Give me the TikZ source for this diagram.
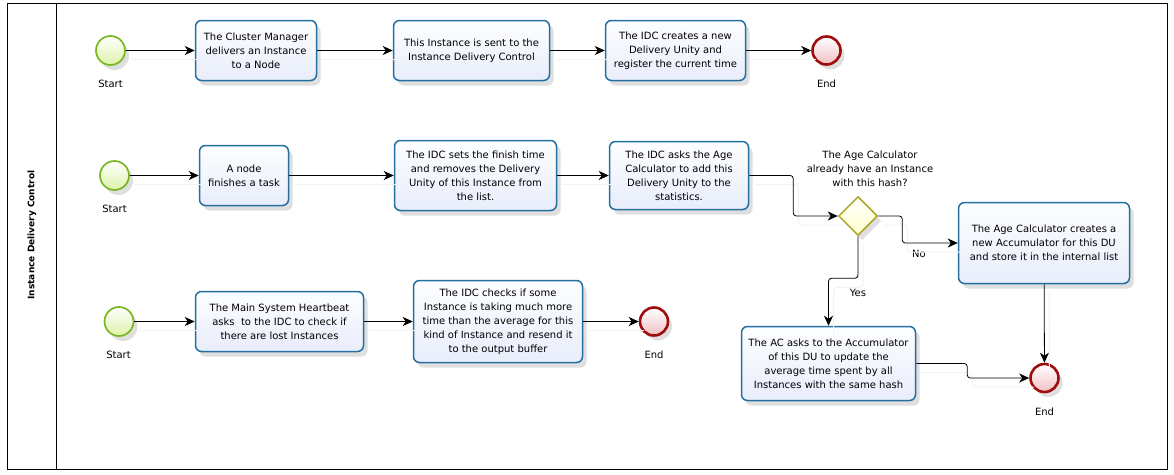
\documentclass[tikz,border=0pt]{standalone}
\usepackage{fontspec}
\setmainfont{DejaVu Sans}
\usetikzlibrary{arrows.meta,shapes.geometric,shadows}

\definecolor{taskline}{RGB}{35,112,160}
\definecolor{tasktop}{RGB}{253,254,255}
\definecolor{taskbot}{RGB}{232,237,251}
\definecolor{startline}{RGB}{122,182,32}
\definecolor{startfill}{RGB}{222,242,170}
\definecolor{endline}{RGB}{158,12,12}
\definecolor{endfill}{RGB}{240,192,198}
\definecolor{gwline}{RGB}{172,166,40}
\definecolor{gwfill}{RGB}{255,255,205}

\tikzset{
  txt/.style={font=\fontsize{10}{14}\selectfont, align=center},
  shade/.style={drop shadow={shadow xshift=4pt, shadow yshift=-5pt, opacity=.25, fill=black!50}},
  task/.style={txt, shade, draw=taskline, line width=1.5pt, rounded corners=6pt,
    top color=tasktop, bottom color=taskbot, inner sep=2pt},
  startev/.style={circle, shade, draw=startline, line width=1.7pt, minimum size=29pt,
    inner sep=0pt, top color=white, bottom color=startfill},
  endev/.style={circle, shade, draw=endline, line width=2.6pt, minimum size=28pt,
    inner sep=0pt, top color=white, bottom color=endfill},
  gate/.style={diamond, shade, draw=gwline, line width=1.5pt, minimum width=39pt,
    minimum height=39pt, inner sep=0pt, top color=white, bottom color=gwfill},
  flow/.style={-{Stealth[length=10pt,width=9pt,inset=3pt]}, line width=0.8pt, rounded corners=3pt,
    preaction={draw=black!5, line width=1pt, arrows=-, transform canvas={shift={(5pt,-9pt)}}}}
}

\begin{document}
\begin{tikzpicture}[x=1pt, y=-1pt]
	\useasboundingbox (0,0) rectangle (1174,474);
	\draw[line width=1pt] (7,3) rectangle (1167,469);
	\draw[line width=1pt] (56,3) -- (56,469);
	\node[rotate=90, font=\bfseries\fontsize{9}{11}\selectfont] (lane) at (32,235) {Instance Delivery Control};

	\node[startev] (s1) at (110.5,50.5) {};
	\node[txt] (s1l) at (110.5,84) {Start};
	\node[task, minimum width=121pt, minimum height=60pt] (t1) at (256,50.5) {The Cluster Manager\\delivers an Instance\\to a Node};
	\node[task, minimum width=156pt, minimum height=60pt] (t2) at (471.5,50.5) {This Instance is sent to the\\Instance Delivery Control};
	\node[task, minimum width=140pt, minimum height=60pt] (t3) at (675.5,50.5) {The IDC creates a new\\Delivery Unity and\\register the current time};
	\node[endev] (e1) at (826.5,50.5) {};
	\node[txt] (e1l) at (826.5,84) {End};

	\node[startev] (s2) at (114.5,175.5) {};
	\node[txt] (s2l) at (114.5,209) {Start};
	\node[task, minimum width=89pt, minimum height=60pt] (ta) at (244,175.5) {A node\\finishes a task};
	\node[task, minimum width=162pt, minimum height=70pt] (tb) at (475.5,175.5) {The IDC sets the finish time\\and removes the Delivery\\Unity of this Instance from\\the list.};
	\node[task, minimum width=139pt, minimum height=68pt] (tc) at (679,175.5) {The IDC asks the Age\\Calculator to add this\\Delivery Unity to the\\statistics.};
	\node[gate] (gw) at (858,216) {};
	\node[txt] (gwl) at (870,169) {The Age Calculator\\already have an Instance\\with this hash?};
	\node[task, minimum width=171pt, minimum height=81pt] (td) at (1044,243) {The Age Calculator creates a\\new Accumulator for this DU\\and store it in the internal list};
	\node[task, minimum width=174pt, minimum height=74pt] (te) at (828.5,363.5) {The AC asks to the Accumulator\\of this DU to update the\\average time spent by all\\Instances with the same hash};
	\node[endev] (e2) at (1044.5,378) {};
	\node[txt] (e2l) at (1044.5,412) {End};
	\node[txt] (no) at (919,254) {No};
	\node[txt] (yes) at (858,293) {Yes};

	\node[startev] (s3) at (119,321.5) {};
	\node[txt] (s3l) at (118.5,355) {Start};
	\node[task, minimum width=168pt, minimum height=60pt] (tf) at (279.5,321.5) {The Main System Heartbeat\\asks~ to the IDC to check if\\there are lost Instances};
	\node[task, minimum width=169pt, minimum height=82pt] (tg) at (498,321.5) {The IDC checks if some\\Instance is taking much more\\time than the average for this\\kind of Instance and resend it\\to the output buffer};
	\node[endev] (e3) at (654,321.5) {};
	\node[txt] (e3l) at (654,355) {End};

	\draw[flow] (s1) -- (t1);
	\draw[flow] (t1) -- (t2);
	\draw[flow] (t2) -- (t3);
	\draw[flow] (t3) -- (e1);
	\draw[flow] (s2) -- (ta);
	\draw[flow] (ta) -- (tb);
	\draw[flow] (tb) -- (tc);
	\draw[flow] (tc.east) -- ++(44,0) |- (gw.west);
	\draw[flow] (gw.east) -- ++(24,0) |- (td.west);
	\draw[flow] (gw.south) -- ++(0,42) -| (te.north);
	\draw[flow] (te.east) -- ++(51,0) |- (e2.west);
	\draw[flow] (td) -- (e2);
	\draw[flow] (s3) -- (tf);
	\draw[flow] (tf) -- (tg);
	\draw[flow] (tg) -- (e3);
\end{tikzpicture}
\end{document}
